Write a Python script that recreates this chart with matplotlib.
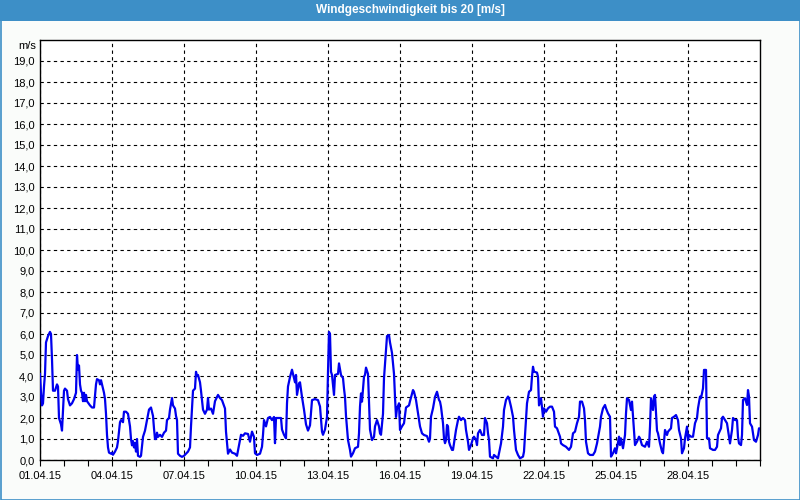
import matplotlib.pyplot as plt
from matplotlib.patches import Rectangle
from matplotlib.ticker import FixedLocator, MultipleLocator

# ---- data (hours since 01.04.15 00:00, wind speed in m/s) ----
HOURS = [0, 1, 2, 3, 4, 5, 6, 8, 10, 11, 12, 13, 15, 17, 18, 19, 21, 22, 23, 24,
         25, 27, 28, 30, 32, 34, 36, 37, 38, 39, 40, 41, 42, 43, 44, 45, 46, 47, 50, 52,
         54, 56, 57, 59, 60, 61, 63, 64, 65, 66, 67, 68, 69, 71, 72, 73, 75, 77, 78, 80,
         81, 83, 84, 86, 88, 90, 91, 92, 93, 94, 95, 96, 97, 98, 100, 101, 103, 105, 107, 109,
         111, 113, 114, 115, 116, 117, 118, 120, 122, 124, 126, 127, 129, 130, 132, 133, 135, 136, 137, 138,
         140, 142, 144, 146, 148, 150, 151, 153, 155, 156, 157, 158, 160, 161, 163, 165, 167, 168, 169, 171,
         173, 175, 177, 178, 180, 182, 185, 186, 188, 190, 192, 195, 197, 199, 201, 203, 205, 208, 210, 212,
         214, 215, 217, 220, 222, 223, 224, 226, 228, 230, 232, 234, 235, 236, 239, 241, 242, 244, 246, 247,
         248, 250, 252, 253, 255, 256, 257, 259, 260, 262, 264, 266, 268, 270, 272, 275, 278, 280, 282, 283,
         285, 287, 288, 289, 290, 291, 292, 294, 295, 298, 299, 301, 303, 304, 305, 306, 308, 310, 311, 313,
         315, 318, 319, 320, 321, 322, 324, 325, 326, 328, 329, 330, 332, 334, 335, 337, 339, 340, 341, 343,
         344, 346, 347, 349, 350, 352, 354, 355, 356, 357, 359, 360, 362, 364, 366, 369, 370, 373, 374, 376,
         379, 380, 382, 384, 387, 389, 390, 391, 393, 395, 397, 399, 400, 401, 403, 404, 405, 406, 407, 408,
         409, 410, 412, 413, 414, 416, 418, 419, 421, 423, 425, 426, 428, 429, 431, 433, 434, 436, 437, 438,
         440, 442, 444, 445, 447, 448, 449, 450, 453, 454, 456, 458, 459, 461, 463, 464, 466, 468, 469, 471,
         473, 474, 476, 478, 480, 483, 484, 486, 487, 489, 491, 492, 493, 494, 497, 498, 499, 501, 503, 504,
         506, 508, 510, 512, 514, 515, 517, 520, 521, 523, 526, 529, 531, 533, 535, 537, 539, 540, 542, 544,
         545, 546, 548, 550, 553, 555, 557, 560, 561, 563, 565, 566, 568, 570, 571, 573, 575, 576, 577, 579,
         580, 581, 583, 585, 586, 587, 589, 591, 592, 594, 595, 597, 599, 600, 602, 605, 607, 609, 610, 611,
         613, 614, 615, 617, 618, 620, 622, 623, 625, 627, 628, 631, 632, 634, 636, 638, 639, 641, 642, 644,
         645, 647, 648, 649, 651, 653, 655, 657, 658, 660, 661, 663, 664, 666, 667, 669, 670, 673, 675, 677,
         678, 681, 682, 683, 685, 687, 688, 690, 692, 693, 695, 697, 698, 699, 701, 702, 703, 705, 707, 708,
         709, 710, 712, 714, 716, 718, 719, 720]

SPEED = [4.1, 3.2, 2.6, 2.7, 3.5, 4.1, 5.6, 5.9, 6.1, 6.0, 4.8, 3.3, 3.3, 3.6, 3.5, 2.0, 1.7, 1.4, 2.3, 3.3,
         3.4, 3.3, 2.9, 2.6, 2.7, 2.9, 3.2, 5.0, 4.3, 4.5, 3.6, 3.3, 3.2, 2.8, 3.2, 2.8, 3.1, 2.8, 2.6, 2.5,
         2.5, 3.6, 3.85, 3.8, 3.6, 3.8, 3.4, 3.2, 2.9, 2.2, 1.2, 0.6, 0.35, 0.3, 0.35, 0.25, 0.4, 0.6, 0.9, 1.8,
         1.9, 1.8, 2.3, 2.3, 2.2, 1.6, 1.0, 0.7, 0.9, 0.6, 0.8, 0.4, 1.0, 0.2, 0.15, 0.2, 1.1, 1.4, 1.9, 2.4,
         2.5, 2.1, 1.5, 1.0, 1.0, 1.3, 1.1, 1.2, 1.1, 1.3, 1.4, 1.9, 2.0, 2.4, 2.95, 2.6, 2.45, 2.1, 1.9, 0.3,
         0.2, 0.15, 0.2, 0.3, 0.4, 0.6, 1.6, 3.3, 3.4, 4.2, 4.0, 4.05, 3.7, 3.3, 2.4, 2.2, 2.4, 2.95, 2.4, 2.45,
         2.2, 2.8, 3.0, 3.1, 2.95, 2.85, 2.45, 1.35, 0.3, 0.5, 0.35, 0.3, 0.2, 0.7, 1.2, 1.15, 1.27, 1.24, 0.87, 1.35,
         1.1, 0.32, 0.24, 0.3, 0.63, 1.2, 1.9, 1.6, 2.0, 2.05, 1.9, 2.05, 0.8, 2.0, 2.0, 2.0, 1.45, 1.2, 1.03, 2.7,
         3.5, 3.95, 4.3, 4.1, 3.7, 4.05, 3.1, 3.65, 3.7, 3.0, 2.4, 1.7, 1.4, 1.65, 2.85, 2.9, 2.85, 2.55, 1.35, 1.2,
         1.45, 2.05, 4.2, 6.1, 6.0, 4.2, 4.05, 3.1, 4.05, 4.1, 4.6, 4.05, 3.9, 3.4, 3.0, 2.1, 0.95, 0.48, 0.16, 0.32,
         0.56, 0.63, 1.27, 2.54, 3.17, 2.78, 3.97, 4.05, 4.4, 4.1, 2.7, 1.45, 0.95, 1.1, 1.6, 1.9, 1.6, 1.27, 1.2, 2.2,
         3.9, 5.2, 5.9, 5.95, 5.6, 5.1, 4.1, 3.0, 2.05, 2.45, 2.7, 1.43, 1.6, 1.75, 2.5, 2.6, 2.8, 3.33, 3.25, 2.86,
         1.9, 1.6, 1.27, 1.19, 1.14, 0.87, 1.03, 2.06, 2.46, 3.0, 3.25, 2.86, 2.78, 2.54, 1.75, 1.03, 0.8, 0.95, 1.67, 1.6,
         0.87, 0.71, 0.48, 0.48, 0.79, 1.43, 1.9, 2.06, 1.9, 2.0, 1.9, 1.43, 0.87, 0.48, 0.71, 1.03, 1.11, 0.95, 0.71, 1.27,
         1.43, 1.19, 1.19, 2.0, 1.75, 1.27, 0.95, 0.16, 0.08, 0.24, 0.16, 0.08, 0.32, 0.79, 1.59, 2.38, 2.86, 3.02, 2.94, 2.54,
         2.06, 1.43, 0.48, 0.24, 0.08, 0.16, 0.4, 1.9, 2.7, 3.25, 3.33, 3.97, 4.44, 4.21, 4.16, 3.97, 2.6, 2.94, 2.06, 2.46,
         2.3, 2.46, 2.54, 2.54, 2.3, 1.59, 1.51, 1.11, 0.79, 0.71, 0.63, 0.48, 0.63, 1.27, 1.35, 1.75, 2.06, 2.78, 2.78, 2.46,
         1.9, 0.87, 0.32, 0.24, 0.24, 0.4, 0.79, 1.59, 2.06, 2.46, 2.62, 2.46, 2.22, 2.06, 0.16, 0.32, 0.56, 0.32, 0.56, 1.11,
         0.71, 1.03, 0.56, 1.19, 2.22, 2.94, 2.86, 2.38, 2.78, 1.43, 0.71, 0.87, 1.11, 1.03, 0.71, 0.63, 0.87, 0.63, 1.59, 2.94,
         2.38, 3.02, 3.1, 1.4, 1.27, 0.79, 0.4, 0.32, 1.43, 1.19, 1.35, 1.51, 2.0, 2.06, 2.14, 1.9, 1.43, 1.03, 0.32, 0.56,
         1.03, 1.59, 0.95, 1.19, 1.11, 1.11, 1.75, 2.0, 2.46, 3.02, 2.94, 3.41, 4.29, 4.29, 1.03, 1.03, 0.56, 0.48, 0.48, 0.63,
         1.19, 1.51, 2.0, 2.06, 1.9, 1.75, 1.43, 0.79, 1.43, 2.0, 1.9, 1.9, 1.11, 0.79, 0.71, 1.19, 2.86, 2.94, 2.62, 3.33,
         3.02, 1.75, 1.59, 0.95, 0.87, 1.19, 1.51, 1.5]

DATE_LABELS = ['01.04.15', '04.04.15', '07.04.15', '10.04.15', '13.04.15',
               '16.04.15', '19.04.15', '22.04.15', '25.04.15', '28.04.15']
Y_LABELS = ['%d,0' % v for v in range(20)]

TITLE = 'Windgeschwindigkeit bis 20 [m/s]'
BLUE_BAR = '#3d8fc7'

plt.rcParams['font.family'] = ['Liberation Sans', 'DejaVu Sans']

fig = plt.figure(figsize=(8, 5), dpi=100, facecolor='#fafcfa')

# title bar + window border
fig.patches.append(Rectangle((0, 1 - 21 / 500), 1, 21 / 500, transform=fig.transFigure,
                             facecolor=BLUE_BAR, edgecolor='none', zorder=0))
fig.patches.append(Rectangle((0.5 / 800, 0.5 / 500), 1 - 1 / 800, 1 - 1 / 500, transform=fig.transFigure,
                             facecolor='none', edgecolor=BLUE_BAR, linewidth=1.2, zorder=1))
fig.text(0.513, 1 - 10.5 / 500, TITLE, color='white', fontsize=8.5, fontweight='bold',
         ha='center', va='center')

ax = fig.add_axes([40 / 800, 40 / 500, 720 / 800, 420 / 500])
ax.set_facecolor('white')
ax.plot(HOURS, SPEED, color='#0000ee', linewidth=1.6, zorder=3)

ax.set_xlim(0, 720)
ax.set_ylim(0, 20)

ax.xaxis.set_major_locator(FixedLocator([72 * i for i in range(len(DATE_LABELS))]))
ax.set_xticklabels(DATE_LABELS)
ax.xaxis.set_minor_locator(MultipleLocator(24))
ax.set_yticks(range(20))
ax.set_yticklabels(Y_LABELS)

ax.tick_params(axis='x', which='both', direction='out', length=4, width=0.8, labelsize=8, pad=4)
ax.tick_params(axis='y', length=0, labelsize=8, pad=4)

ax.grid(True, which='major', color='black', linestyle=(0, (3, 3)), linewidth=0.8)
for s in ax.spines.values():
    s.set_linewidth(1.0)
    s.set_color('black')

fig.text(36 / 800, 1 - 46 / 500, 'm/s', fontsize=8, ha='right', va='center')

fig.savefig('out.png', dpi=100, facecolor=fig.get_facecolor())
